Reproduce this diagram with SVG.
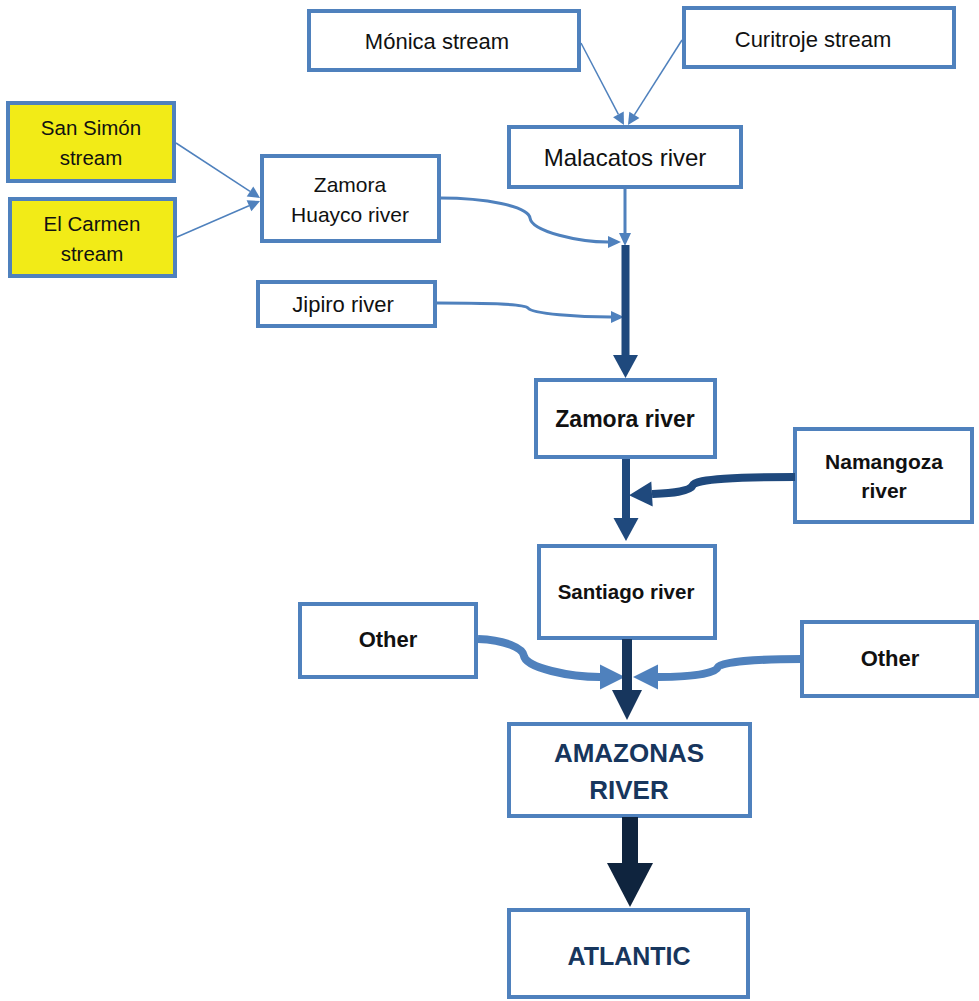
<svg xmlns="http://www.w3.org/2000/svg" width="979" height="1001" viewBox="0 0 979 1001">
<style>
  .box { fill: #ffffff; stroke: #4f81bd; stroke-width: 4; }
  .yel { fill: #f2eb17; }
  text { font-family: "Liberation Sans", Arial, sans-serif; fill: #111111; text-anchor: middle; }
  .b { font-weight: bold; }
  .big { font-weight: bold; fill: #17365d; font-size: 26px; }
  .thin { fill: none; stroke: #4f81bd; stroke-width: 1.5; marker-end: url(#aThin); }
  .med { fill: none; stroke: #4f81bd; stroke-width: 3; marker-end: url(#aMed); }
  .lt8 { fill: none; stroke: #4f81bd; stroke-width: 8; marker-end: url(#aLight); }
  .dk8 { fill: none; stroke: #1f497d; stroke-width: 8; marker-end: url(#aDark); }
  .dk10 { fill: none; stroke: #17365d; stroke-width: 10; marker-end: url(#aDarker); }
  .dk16 { fill: none; stroke: #0f243e; stroke-width: 16; marker-end: url(#aBig); }
</style>
<defs>
  <marker id="aThin" markerUnits="userSpaceOnUse" markerWidth="12" markerHeight="12" refX="0" refY="6" orient="auto" overflow="visible">
    <path d="M0,0 L12,6 L0,12 Z" fill="#4f81bd"/>
  </marker>
  <marker id="aMed" markerUnits="userSpaceOnUse" markerWidth="13" markerHeight="12" refX="0" refY="6" orient="auto" overflow="visible">
    <path d="M0,0 L13,6 L0,12 Z" fill="#4f81bd"/>
  </marker>
  <marker id="aLight" markerUnits="userSpaceOnUse" markerWidth="25" markerHeight="25" refX="0" refY="12.5" orient="auto" overflow="visible">
    <path d="M0,0 L25,12.5 L0,25 Z" fill="#4f81bd"/>
  </marker>
  <marker id="aDark" markerUnits="userSpaceOnUse" markerWidth="23" markerHeight="25" refX="0" refY="12.5" orient="auto" overflow="visible">
    <path d="M0,0 L23,12.5 L0,25 Z" fill="#1f497d"/>
  </marker>
  <marker id="aDarker" markerUnits="userSpaceOnUse" markerWidth="30" markerHeight="30" refX="0" refY="15" orient="auto" overflow="visible">
    <path d="M0,0 L30,15 L0,30 Z" fill="#17365d"/>
  </marker>
  <marker id="aBig" markerUnits="userSpaceOnUse" markerWidth="44" markerHeight="46" refX="0" refY="23" orient="auto" overflow="visible">
    <path d="M0,0 L44,23 L0,46 Z" fill="#0f243e"/>
  </marker>
</defs>

<g id="monica">
  <rect class="box" x="309" y="11" width="270" height="59"/>
  <text x="437" y="49" font-size="22">Mónica stream</text>
</g>
<g id="curitroje">
  <rect class="box" x="684" y="8" width="270" height="59"/>
  <text x="813" y="47" font-size="22">Curitroje stream</text>
</g>
<g id="malacatos">
  <rect class="box" x="509" y="127" width="232" height="60"/>
  <text x="625" y="166" font-size="24">Malacatos river</text>
</g>
<g id="sansimon">
  <rect class="box yel" x="8" y="103" width="166" height="78"/>
  <text x="91" y="135" font-size="20.5">San Simón</text>
  <text x="91" y="165" font-size="20.5">stream</text>
</g>
<g id="elcarmen">
  <rect class="box yel" x="10" y="199" width="165" height="77"/>
  <text x="92" y="231" font-size="20.5">El Carmen</text>
  <text x="92" y="261" font-size="20.5">stream</text>
</g>
<g id="zamorahuayco">
  <rect class="box" x="262" y="156" width="177" height="85"/>
  <text x="350" y="192" font-size="21">Zamora</text>
  <text x="350" y="222" font-size="21">Huayco river</text>
</g>
<g id="jipiro">
  <rect class="box" x="258" y="282" width="177" height="44"/>
  <text x="343" y="312" font-size="22">Jipiro river</text>
</g>
<g id="zamora">
  <rect class="box" x="536" y="380" width="179" height="77"/>
  <text class="b" x="625" y="427" font-size="23">Zamora river</text>
</g>
<g id="namangoza">
  <rect class="box" x="795" y="429" width="177" height="93"/>
  <text class="b" x="884" y="469" font-size="21">Namangoza</text>
  <text class="b" x="884" y="498" font-size="21">river</text>
</g>
<g id="santiago">
  <rect class="box" x="539" y="546" width="176" height="92"/>
  <text class="b" x="626" y="599" font-size="20.5">Santiago river</text>
</g>
<g id="other-left">
  <rect class="box" x="300" y="604" width="176" height="73"/>
  <text class="b" x="388" y="647" font-size="22">Other</text>
</g>
<g id="other-right">
  <rect class="box" x="802" y="622" width="175" height="74"/>
  <text class="b" x="890" y="666" font-size="22">Other</text>
</g>
<g id="amazonas">
  <rect class="box" x="509" y="724" width="241" height="92"/>
  <text class="big" x="629" y="762">AMAZONAS</text>
  <text class="big" x="629" y="799">RIVER</text>
</g>
<g id="atlantic">
  <rect class="box" x="509" y="910" width="239" height="87"/>
  <text class="big" x="629" y="965" font-size="25" style="font-size:25px">ATLANTIC</text>
</g>

<g id="connectors">
  <path class="thin" d="M176,143 L250,191.4"/>
  <path class="thin" d="M177,237 L249,205.8"/>
  <path class="thin" d="M581,43 L618.4,114.4"/>
  <path class="thin" d="M682,40 L634.4,114.9"/>
  <path class="med" d="M625,189 L625,233"/>
  <path class="med" d="M440,198 C485,198 528,206 530,218 C532,232 580,242 608,242"/>
  <path class="med" d="M437,303 C490,303 525,304 528,308 C532,314 580,317 611,317"/>
  <path class="lt8" d="M478,639 C505,640 523,648 524,656 C526,668 570,677 600,677"/>
  <path class="lt8" d="M802,659 C760,659 720,662 718,667 C716,674 690,677 658,677"/>
  <path class="dk8" d="M625.5,245 L625.5,355"/>
  <path class="dk8" d="M626,459 L626,518"/>
  <path class="dk8" d="M795,477 C740,477 695,479 693,485 C690,492 670,493 652,494"/>
  <path class="dk10" d="M627,639 L627,690"/>
  <path class="dk16" d="M630,817 L630,863"/>
</g>
</svg>
